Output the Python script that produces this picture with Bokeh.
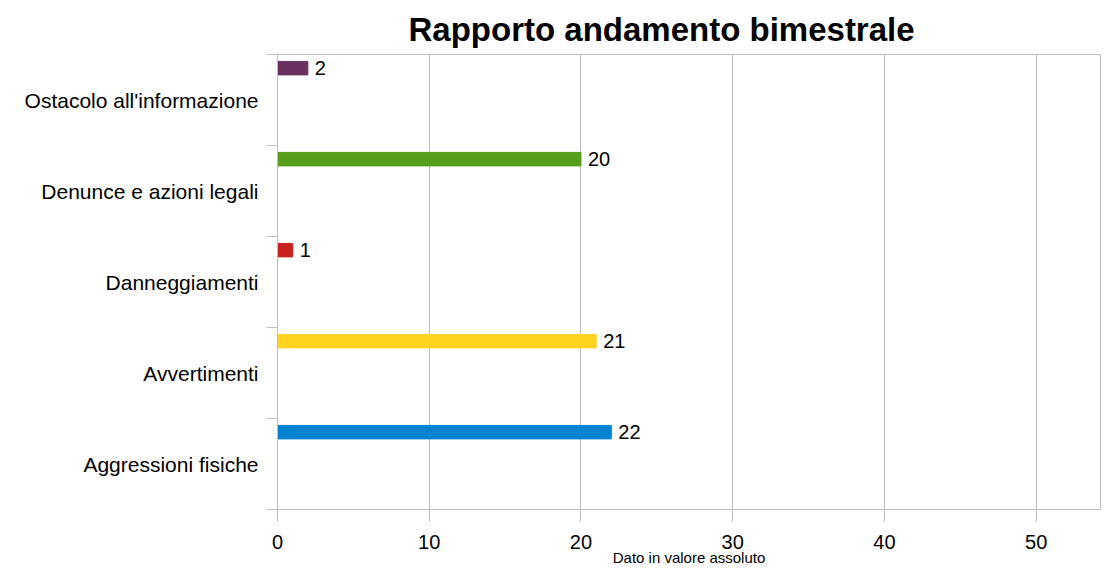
from bokeh.plotting import figure
from bokeh.models import FixedTicker, Range1d, ColumnDataSource
from bokeh.core.properties import value
from bokeh.embed import file_html
from bokeh.resources import INLINE

categories = ["Aggressioni fisiche", "Avvertimenti", "Danneggiamenti",
              "Denunce e azioni legali", "Ostacolo all'informazione"]
values = [22, 21, 1, 20, 2]
colors = ["#0084d1", "#ffd320", "#c9211e", "#579d1c", "#69305f"]
x_ticks = [0, 10, 20, 30, 40, 50]

FONT = "Liberation Sans"
GRID = "#bdbdbd"

pos = [i + 0.85 for i in range(len(categories))]
src = ColumnDataSource(dict(y=pos, v=values, c=colors, lab=[str(v) for v in values]))

p = figure(width=1101, height=568, output_backend="svg", toolbar_location=None,
           x_range=Range1d(0, 54.24), y_range=Range1d(0, len(categories)),
           min_border_left=277, min_border_right=1, min_border_top=54,
           min_border_bottom=58, title="Rapporto andamento bimestrale")

p.title.text_font = FONT
p.title.text_font_size = "33px"
p.title.text_font_style = "bold"
p.title.text_color = "#000000"
p.title.align = "left"
p.title.offset = 131
p.title.standoff = 14

p.hbar(y="y", right="v", left=0, height=0.148, color="c", source=src)
p.text(x="v", y="y", text="lab", source=src, x_offset=7, text_baseline="middle",
       text_align="left", text_font=value(FONT), text_font_size="20px", text_color="#000000")

p.outline_line_color = GRID
p.background_fill_color = "white"
p.border_fill_color = "white"

# x axis
xa = p.xaxis[0]
xa.ticker = FixedTicker(ticks=x_ticks, minor_ticks=[])
xa.axis_line_color = GRID
xa.major_tick_line_color = GRID
xa.major_tick_out = 12
xa.major_tick_in = 0
xa.minor_tick_line_color = None
xa.major_label_text_font = FONT
xa.major_label_text_font_size = "20px"
xa.major_label_text_color = "#000000"
xa.major_label_standoff = 13
xa.axis_label = "Dato in valore assoluto"
xa.axis_label_text_font = FONT
xa.axis_label_text_font_size = "15px"
xa.axis_label_text_font_style = "normal"
xa.axis_label_text_color = "#000000"
xa.axis_label_standoff = -3

# y axis
ya = p.yaxis[0]
ya.ticker = FixedTicker(ticks=[i + 0.5 for i in range(len(categories))],
                        minor_ticks=list(range(len(categories) + 1)))
ya.major_label_overrides = {i + 0.5: c for i, c in enumerate(categories)}
ya.axis_line_color = GRID
ya.major_tick_line_color = None
ya.major_tick_out = 0
ya.major_tick_in = 0
ya.minor_tick_line_color = GRID
ya.minor_tick_out = 11
ya.minor_tick_in = 0
ya.major_label_text_font = FONT
ya.major_label_text_font_size = "21px"
ya.major_label_text_color = "#000000"
ya.major_label_standoff = 8

p.xgrid.grid_line_color = GRID
p.ygrid.grid_line_color = None

open("out.html", "w").write(file_html(p, INLINE))
